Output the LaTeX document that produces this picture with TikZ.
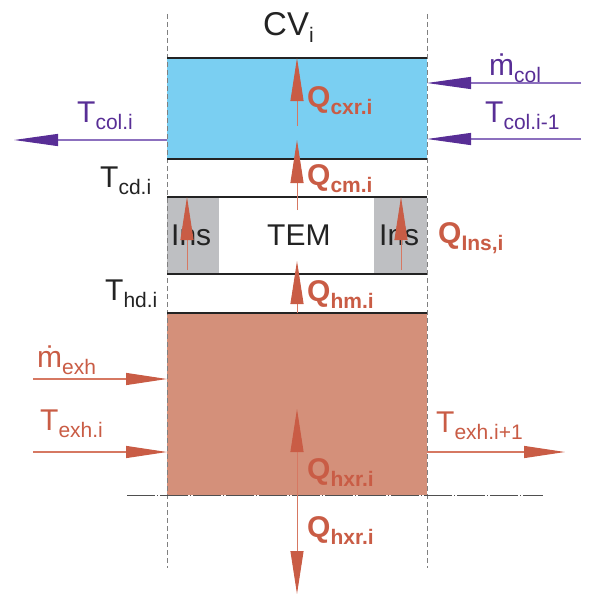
\documentclass[tikz,border=0pt]{standalone}
\usepackage{fontspec}
\setmainfont{Liberation Sans}
\usetikzlibrary{arrows.meta}
\definecolor{cblue}{RGB}{122,207,242}
\definecolor{cexh}{RGB}{212,144,122}
\definecolor{cins}{RGB}{190,191,194}
\definecolor{cred}{RGB}{201,92,69}
\definecolor{credl}{RGB}{214,120,98}
\definecolor{cpur}{RGB}{88,46,150}
\definecolor{cpurl}{RGB}{140,112,190}
\definecolor{cdark}{RGB}{35,35,35}
\newcommand{\mysub}[2]{#1\raisebox{-7pt}{\fontsize{21}{21}\selectfont #2}}
\begin{document}
\begin{tikzpicture}[x=1pt,y=-1pt,
  txt/.style={anchor=base west,inner sep=0pt,font=\fontsize{30}{30}\selectfont},
  qlab/.style={txt,text=cred,font=\bfseries\fontsize{30}{30}\selectfont},
  tred/.style={txt,text=cred},
  tpur/.style={txt,text=cpur},
  tblk/.style={txt,text=cdark},
  wall/.style={cdark,line width=2pt},
  cvline/.style={gray,line width=0.6pt,dash pattern=on 5pt off 3pt},
  qarrow/.style={credl,line width=1pt,-{Triangle[length=43pt,width=13pt,color=cred]}},
  qdouble/.style={credl,line width=1pt,{Triangle[length=43pt,width=13pt,color=cred]}-{Triangle[length=43pt,width=13pt,color=cred]}},
  parrow/.style={cpurl,line width=1.2pt,-{Triangle[length=44pt,width=12pt,color=cpur]}},
  rarrow/.style={credl,line width=1.2pt,-{Triangle[length=41pt,width=12pt,color=cred]}},
]
\useasboundingbox (0,0) rectangle (593,594);
% regions
\fill[cblue] (167,58) rectangle (427,159);
\fill[cins] (167,197) rectangle (219,274);
\fill[cins] (374,197) rectangle (427,274);
\fill[cexh] (167,313) rectangle (427,495);
% control volume borders
\draw[cvline] (167,14) -- (167,568);
\draw[cvline] (427,14) -- (427,568);
% walls
\foreach \yy in {58,159,197,274,313} \draw[wall] (167,\yy) -- (427,\yy);
\draw[cdark!80,line width=0.9pt,dash pattern=on 28pt off 2pt on 1pt off 2pt] (127,495) -- (543,495);
% coordinates
\coordinate (cxrA) at (297,126); \coordinate (cxrB) at (297,58);
\coordinate (cmA) at (297,210);  \coordinate (cmB) at (297,140);
\coordinate (insLA) at (187,270); \coordinate (insLB) at (187,197);
\coordinate (insRA) at (401,270); \coordinate (insRB) at (401,197);
\coordinate (hmA) at (297,313);  \coordinate (hmB) at (297,261);
\coordinate (hxrA) at (297,409); \coordinate (hxrB) at (297,594);
\coordinate (tcolA) at (167,140); \coordinate (tcolB) at (14,140);
\coordinate (mcolA) at (581,83); \coordinate (mcolB) at (427,83);
\coordinate (tcol1A) at (581,139); \coordinate (tcol1B) at (427,139);
\coordinate (mexhA) at (33,379); \coordinate (mexhB) at (167,379);
\coordinate (texhA) at (33,452); \coordinate (texhB) at (167,452);
\coordinate (texh1A) at (427,452); \coordinate (texh1B) at (565,452);
% text in regions
\node[tblk] (ins1) at (171,245) {Ins};
\node[tblk] (tem) at (267,245) {TEM};
\node[tblk] (ins2) at (379,245) {Ins};
% heat arrows
\draw[qarrow] (cxrA) -- (cxrB);
\draw[qarrow] (cmA) -- (cmB);
\draw[qarrow] (insLA) -- (insLB);
\draw[qarrow] (insRA) -- (insRB);
\draw[qarrow] (hmA) -- (hmB);
\draw[qdouble] (hxrA) -- (hxrB);
% flow arrows
\draw[parrow] (tcolA) -- (tcolB);
\draw[parrow] (mcolA) -- (mcolB);
\draw[parrow] (tcol1A) -- (tcol1B);
\draw[rarrow] (mexhA) -- (mexhB);
\draw[rarrow] (texhA) -- (texhB);
\draw[rarrow] (texh1A) -- (texh1B);
% labels
\node[tblk,font=\fontsize{33}{33}\selectfont] (cv) at (263,36) {\mysub{CV}{i}};
\node[qlab] (qcxr) at (307,107) {\mysub{Q}{cxr.i}};
\node[qlab] (qcm) at (307,185) {\mysub{Q}{cm.i}};
\node[qlab] (qins) at (438,243) {\mysub{Q}{Ins,i}};
\node[qlab] (qhm) at (307,301) {\mysub{Q}{hm.i}};
\node[qlab] (qhxr1) at (307,479) {\mysub{Q}{hxr.i}};
\node[qlab] (qhxr2) at (307,537) {\mysub{Q}{hxr.i}};
\node[tpur] (tcol) at (77,122) {\mysub{T}{col.i}};
\node[tpur] (mcol) at (489,75) {\mysub{ṁ}{col}};
\node[tpur] (tcol1) at (485,122) {\mysub{T}{col.i-1}};
\node[tblk] (tcd) at (100,187) {\mysub{T}{cd.i}};
\node[tblk] (thd) at (105,300) {\mysub{T}{hd.i}};
\node[tred] (mexh) at (37,367) {\mysub{ṁ}{exh}};
\node[tred] (texh) at (40,430) {\mysub{T}{exh.i}};
\node[tred] (texh1) at (436,432) {\mysub{T}{exh.i+1}};
\end{tikzpicture}
\end{document}
